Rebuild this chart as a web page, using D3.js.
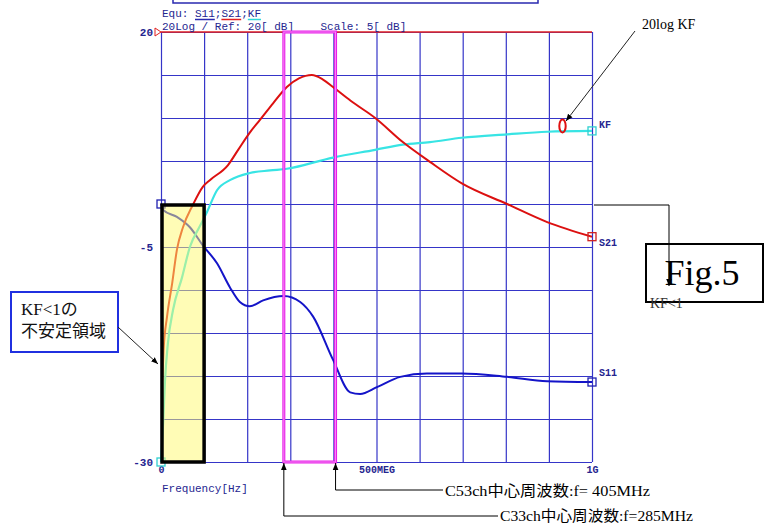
<!DOCTYPE html>
<html><head><meta charset="utf-8">
<script src="https://cdn.jsdelivr.net/npm/d3@7"></script>
<style>body{margin:0;background:#fff}svg{display:block}</style>
</head><body>
<svg id="c" width="771" height="524"></svg>
<script>
// ---- data ----
const xTicks = [0,100,200,300,400,500,600,700,800,900,1000];
const xTickLabels = {0:"0",500:"500MEG",1000:"1G"};
const yTicks = [20,15,10,5,0,-5,-10,-15,-20,-25,-30];
const yTickLabels = {20:"20","-5":"-5","-30":"-30"};

const s21F  = [3,6,14,26,37,51,74,97,114,155,179,206,230,260,292,320,350,375,399,440,497,561,624,698,803,896,1000];
const s21dB = [-20.5,-17.0,-13.1,-9.2,-5.3,-2.7,-0.1,2.0,2.8,4.5,6.3,8.3,9.8,11.7,13.6,14.6,15.0,14.5,13.6,12.0,10.0,7.2,4.9,2.4,0.0,-2.1,-3.8];

const kfF  = [0,5,9,16,28,49,67,90,107,130,161,206,253,292,399,497,561,624,698,803,896,1000];
const kfdB = [-30,-25.5,-20.8,-16.2,-12.3,-8.5,-5.0,-2.6,-0.9,1.6,2.8,3.6,3.9,4.1,5.4,6.3,6.9,7.2,7.7,8.1,8.4,8.5];

const s11F  = [0,5,37,67,97,130,160,183,206,237,285,323,353,399,439,462,501,555,617,698,803,896,1000];
const s11dB = [0,-0.7,-1.5,-2.7,-4.8,-6.9,-9.7,-11.4,-11.9,-11.2,-10.7,-11.4,-13.1,-18.1,-21.9,-22.1,-21.3,-20.1,-19.7,-19.7,-20.1,-20.6,-20.7];

const unstableBand = [0,100];   // MHz, KF<1 region
const unstableTop = 0;          // dB
const channelBand = [285,405];  // MHz
const headerLine1 = "Equ: S11;S21;KF";
const headerLine2 = "20Log / Ref: 20[ dB]    Scale: 5[ dB]";

// ---- layout ----
const svg = d3.select("#c");
const L=161, R=592, T=32, B=462;
const x = d3.scaleLinear().domain([0,1000]).range([L,R]);
const y = d3.scaleLinear().domain([-30,20]).range([B,T]);
const gridCol = "#3535c8", txtCol = "#25258f";
const mono = "'Liberation Mono','DejaVu Sans Mono',monospace";
const serif = "'Liberation Serif','Noto Serif CJK JP','Noto Sans CJK JP',serif";
const cjk = "'Liberation Serif','Noto Sans CJK JP',sans-serif";

const defs = svg.append("defs");
defs.append("marker").attr("id","ah").attr("viewBox","0 0 10 10").attr("refX",10).attr("refY",5)
  .attr("markerWidth",7).attr("markerHeight",7).attr("orient","auto-start-reverse")
  .append("path").attr("d","M0,1L10,5L0,9z").attr("fill","#000");

// top header box remnant
svg.append("path").attr("d","M173,-2V3H538V-2").attr("fill","none").attr("stroke","#2a2ab0").attr("stroke-width",1.5);

// grid via axes
const gx = svg.append("g").attr("transform",`translate(0,${B})`)
  .call(d3.axisBottom(x).tickValues(xTicks).tickSize(-(B-T)).tickFormat(""));
gx.select(".domain").remove();
gx.selectAll("line").attr("stroke",gridCol).attr("stroke-width",1.2);
const gy = svg.append("g").attr("transform",`translate(${L},0)`)
  .call(d3.axisLeft(y).tickValues(yTicks).tickSize(-(R-L)).tickFormat(""));
gy.select(".domain").remove();
gy.selectAll("line").attr("stroke",gridCol).attr("stroke-width",1.2);

// axis labels
const lx = svg.append("g").attr("transform",`translate(0,${B})`)
  .call(d3.axisBottom(x).tickValues([0,500,1000]).tickSize(0).tickPadding(4).tickFormat(d=>xTickLabels[d]));
lx.select(".domain").remove();
lx.selectAll("text").attr("font-family",mono).attr("font-size",10).attr("font-weight","bold").attr("fill",txtCol);
const ly = svg.append("g").attr("transform",`translate(${L-4},0)`)
  .call(d3.axisLeft(y).tickValues([20,-5,-30]).tickSize(0).tickPadding(4).tickFormat(d=>yTickLabels[d]));
ly.select(".domain").remove();
ly.selectAll("text").attr("font-family",mono).attr("font-size",11).attr("font-weight","bold").attr("fill",txtCol);

svg.append("text").attr("x",L+1).attr("y",492).attr("font-family",mono).attr("font-size",11).attr("fill",txtCol).text("Frequency[Hz]");

// reference line (red) at top
svg.append("line").attr("x1",L).attr("x2",R).attr("y1",y(20)).attr("y2",y(20)).attr("stroke","#e02020").attr("stroke-width",1.5);
svg.append("path").attr("d",`M${L-6},${y(20)-4}L${L},${y(20)}L${L-6},${y(20)+4}z`).attr("fill","none").attr("stroke","#e02020").attr("stroke-width",1);

// header text
const h1 = svg.append("text").attr("x",162).attr("y",17).attr("font-family",mono).attr("font-size",11).attr("fill",txtCol).text(headerLine1);
svg.append("text").attr("x",162).attr("y",30).attr("font-family",mono).attr("font-size",11).attr("fill",txtCol).attr("xml:space","preserve").text(headerLine2);
const cw = 6.6;
[[5,3,"#2a2ab0"],[9,3,"#e02020"],[13,2,"#30d8d8"]].forEach(([i,n,c])=>{
  svg.append("line").attr("x1",162+i*cw).attr("x2",162+(i+n)*cw).attr("y1",19.5).attr("y2",19.5).attr("stroke",c).attr("stroke-width",1.5);
});

// curves
const mk = (F,D)=>F.map((f,i)=>[f,D[i]]);
const line = d3.line().x(d=>x(d[0])).y(d=>y(d[1])).curve(d3.curveMonotoneX);
svg.append("path").datum(mk(s11F,s11dB)).attr("d",line).attr("fill","none").attr("stroke","#1414c8").attr("stroke-width",2);
svg.append("path").datum(mk(kfF,kfdB)).attr("d",line).attr("fill","none").attr("stroke","#38e4e4").attr("stroke-width",2.2);
svg.append("path").datum(mk(s21F,s21dB)).attr("d",line).attr("fill","none").attr("stroke","#dc1010").attr("stroke-width",2);

// end markers
const sq = (px,py,c)=>svg.append("rect").attr("x",px-4).attr("y",py-4).attr("width",8).attr("height",8).attr("fill","none").attr("stroke",c).attr("stroke-width",1.3);
sq(x(1000),y(kfdB[kfdB.length-1]),"#30d0d0");
sq(x(1000),y(s21dB[s21dB.length-1]),"#d02020");
sq(x(1000),y(s11dB[s11dB.length-1]),"#2020b0");
sq(x(0),y(s11dB[0]),"#2020b0");
sq(x(0),y(kfdB[0]),"#30d0d0");

// right labels
const rl = (t,yy)=>svg.append("text").attr("x",599).attr("y",yy).attr("font-family",mono).attr("font-size",10).attr("font-weight","bold").attr("fill",txtCol).text(t);
rl("KF",y(kfdB[kfdB.length-1])-3);
rl("S21",y(s21dB[s21dB.length-1])+9);
rl("S11",y(s11dB[s11dB.length-1])-6);

// unstable yellow region
svg.append("rect").attr("x",x(unstableBand[0])+1).attr("y",y(unstableTop)+1).attr("width",x(unstableBand[1])-x(unstableBand[0])-1).attr("height",B-y(unstableTop)-1)
  .attr("fill","rgb(255,250,110)").attr("fill-opacity",0.5).attr("stroke","#000").attr("stroke-width",3.5);

// channel band magenta
svg.append("rect").attr("x",x(channelBand[0])).attr("y",T).attr("width",x(channelBand[1])-x(channelBand[0])).attr("height",B-T)
  .attr("fill","none").attr("stroke","#e81ee8").attr("stroke-width",3);
svg.append("rect").attr("x",x(channelBand[0])).attr("y",T).attr("width",x(channelBand[1])-x(channelBand[0])).attr("height",B-T)
  .attr("fill","none").attr("stroke","#f8a0f8").attr("stroke-width",0.8);

// 20log KF annotation
svg.append("ellipse").attr("cx",562.5).attr("cy",126).attr("rx",3.2).attr("ry",6.5).attr("fill","none").attr("stroke","#e01010").attr("stroke-width",2);
svg.append("line").attr("x1",635).attr("y1",31).attr("x2",566).attr("y2",121).attr("stroke","#222").attr("stroke-width",1).attr("marker-end","url(#ah)");
svg.append("text").attr("x",642).attr("y",29).attr("font-family",serif).attr("font-size",14).attr("fill","#000").text("20log KF");

// KF<1 callout to Fig box
svg.append("rect").attr("x",646).attr("y",244).attr("width",117).attr("height",58).attr("fill","#fff").attr("stroke","#000").attr("stroke-width",2);
svg.append("text").attr("x",702).attr("y",285).attr("text-anchor","middle").attr("font-family",serif).attr("font-size",36).attr("fill","#000").text("Fig.5");
svg.append("path").attr("d","M594,205H669V286").attr("fill","none").attr("stroke","#000").attr("stroke-width",1).attr("marker-end","url(#ah)");
svg.append("text").attr("x",650).attr("y",308).attr("font-family",serif).attr("font-size",14).attr("fill","#333").text("KF<1");

// left callout
svg.append("rect").attr("x",11).attr("y",292).attr("width",107).attr("height",60).attr("fill","#fff").attr("stroke","#2030e0").attr("stroke-width",2);
svg.append("text").attr("x",21).attr("y",315).attr("font-family",cjk).attr("font-size",17).attr("fill","#111").text("KF<1の");
svg.append("text").attr("x",21).attr("y",337).attr("font-family",cjk).attr("font-size",17).attr("fill","#111").text("不安定領域");
svg.append("line").attr("x1",118).attr("y1",327).attr("x2",158).attr("y2",364).attr("stroke","#222").attr("stroke-width",1).attr("marker-end","url(#ah)");

// channel annotations
svg.append("path").attr("d",`M443,490H${x(channelBand[1])}V${B+1}`).attr("fill","none").attr("stroke","#000").attr("stroke-width",1).attr("marker-end","url(#ah)");
svg.append("text").attr("x",445).attr("y",496).attr("font-family",cjk).attr("font-size",15).attr("fill","#000").attr("textLength",205).attr("lengthAdjust","spacingAndGlyphs").attr("xml:space","preserve").text("C53ch中心周波数:f= 405MHz");
svg.append("path").attr("d",`M498,516H${x(channelBand[0])}V${B+1}`).attr("fill","none").attr("stroke","#000").attr("stroke-width",1).attr("marker-end","url(#ah)");
svg.append("text").attr("x",500).attr("y",521).attr("font-family",cjk).attr("font-size",15).attr("fill","#000").attr("textLength",193).attr("lengthAdjust","spacingAndGlyphs").text("C33ch中心周波数:f=285MHz");
</script>
</body></html>
